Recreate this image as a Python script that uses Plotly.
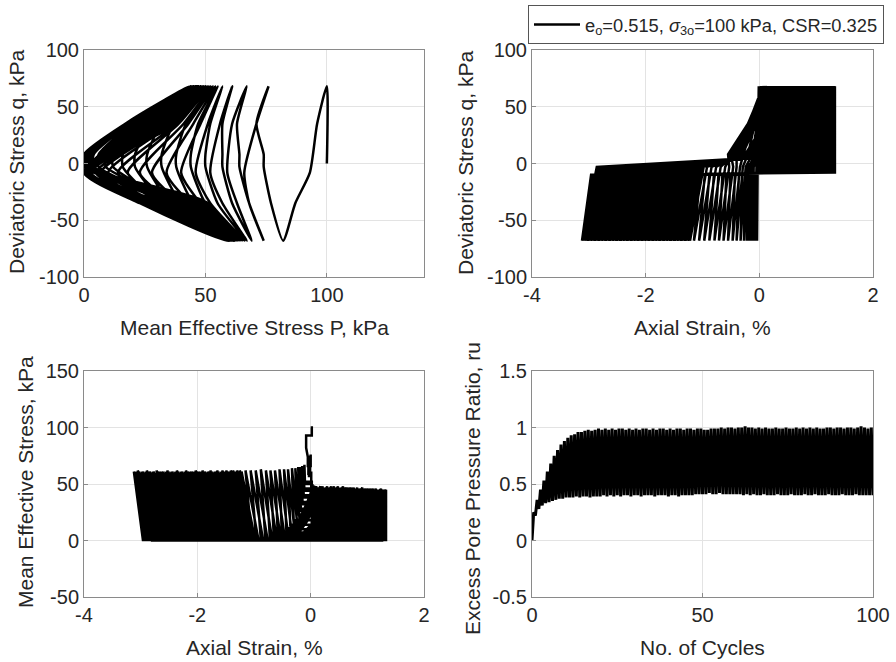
import plotly.graph_objects as go

# ---------------- data (one entry per loading cycle, 1..100) ----------------
p_start = [100]
q_start = [0]
eps_start = [0.0]

# deviatoric stress (kPa) at the turning points of each cycle:
# A peak, B after unloading, C liquefied, D trough, E after reloading, F start of rise
q_turn = [68, -8, -10, -68, -3, 8]
# q level of the mid-branch readings
q_mid = [35, -35]

p_pk = [100, 76, 67, 61, 57, 55, 54, 53, 52, 51,
        50, 50, 49, 49, 48, 48, 48, 47, 47, 48,
        47, 48, 47, 46, 47, 48, 47, 46, 47, 48,
        47, 46, 48, 47, 46, 47, 48, 46, 47, 47,
        46, 47, 48, 46, 47, 46, 47, 47, 46, 47,
        46, 47, 46, 47, 46, 46, 47, 46, 45, 46,
        47, 46, 45, 46, 46, 45, 46, 47, 45, 46,
        45, 46, 45, 46, 45, 46, 45, 45, 46, 45,
        45, 46, 45, 44, 45, 46, 45, 44, 45, 45,
        44, 45, 46, 44, 45, 44, 45, 44, 45, 45]
p_tr = [82, 74, 69, 67, 66, 66, 65, 65, 64, 64,
        63, 63, 63, 62, 62, 62, 63, 62, 62, 62,
        61, 62, 61, 62, 61, 61, 62, 61, 62, 61,
        61, 62, 61, 61, 62, 61, 60, 61, 62, 61,
        61, 60, 61, 62, 61, 61, 60, 61, 61, 62,
        61, 60, 61, 61, 62, 61, 60, 61, 61, 60,
        61, 62, 61, 60, 61, 61, 60, 61, 62, 61,
        60, 61, 61, 60, 61, 62, 61, 60, 61, 61,
        60, 61, 61, 62, 60, 61, 61, 60, 61, 61,
        62, 61, 60, 61, 61, 60, 61, 62, 61, 61]
p_dn = [93, 66, 59, 52, 46, 40, 34, 28, 23, 18,
        14, 10, 7, 5, 3, 2, 1.5, 1, 1, 0.5,
        1, 0.5, 1.5, 0, 1, 0.5, 1, 1.5, 0.5, 0,
        1, 0.5, 1, 0, 1.5, 0.5, 1, 0.5, 0, 1,
        0.5, 1, 1.5, 0.5, 0, 1, 0.5, 1, 0.5, 1.5,
        0, 1, 0.5, 1, 0.5, 0, 1, 1.5, 0.5, 1,
        0.5, 0, 1, 0.5, 1.5, 1, 0.5, 0, 1, 0.5,
        1, 0.5, 0, 1.5, 0.5, 1, 0.5, 1, 0, 0.5,
        1, 0.5, 1.5, 0, 1, 0.5, 1, 0.5, 0, 1,
        0.5, 1, 0.5, 0, 1.5, 0.5, 1, 0.5, 1, 0.5]
p_up = [74, 64, 57, 50, 44, 38, 32, 26, 21, 16,
        12, 9, 6, 4, 3, 2, 1.5, 1, 1, 0.5,
        0.5, 1, 0, 1, 0.5, 1.5, 0.5, 1, 0, 1,
        0.5, 1, 0.5, 1.5, 0, 1, 0.5, 1, 0.5, 0,
        1, 0.5, 1, 0, 1.5, 0.5, 1, 0.5, 1, 0,
        0.5, 1, 1.5, 0.5, 0, 1, 0.5, 1, 0.5, 1,
        0, 1, 0.5, 1, 0.5, 1.5, 0, 1, 0.5, 1,
        0.5, 0, 1, 0.5, 1, 0.5, 1.5, 0, 1, 0.5,
        1, 0, 0.5, 1, 0.5, 1, 0, 1.5, 0.5, 1,
        0.5, 1, 0, 0.5, 1, 0.5, 1, 0, 0.5, 1]
# p' at q = +35 while unloading from the compression peak
p_um = [96, 71, 61, 56, 51, 48, 45, 43, 41, 39,
        38, 36, 35, 34, 33, 32, 31, 30, 30, 29,
        27, 33, 24, 36, 29, 22, 31, 35, 26, 30,
        23, 34, 28, 37, 25, 32, 21, 29, 36, 27,
        33, 24, 30, 38, 26, 31, 22, 35, 28, 32,
        25, 37, 29, 23, 34, 27, 31, 36, 24, 30,
        28, 33, 22, 35, 26, 32, 29, 37, 25, 31,
        23, 34, 30, 27, 36, 24, 32, 28, 35, 26,
        31, 22, 33, 29, 37, 25, 30, 34, 27, 32,
        24, 36, 28, 31, 23, 35, 29, 26, 33, 30]
# p' at q = -35 while loading towards the extension trough
p_em = [87, 68, 63, 57, 52, 48, 44, 40, 37, 34,
        32, 30, 29, 28, 27, 27, 26, 26, 25, 26,
        25, 29, 24, 31, 26, 28, 23, 30, 25, 27,
        32, 24, 28, 26, 30, 23, 27, 29, 25, 31,
        24, 28, 26, 33, 25, 29, 23, 27, 30, 24,
        28, 25, 31, 26, 24, 29, 27, 23, 30, 26,
        25, 28, 32, 24, 27, 26, 30, 23, 29, 25,
        27, 24, 31, 26, 28, 25, 23, 30, 26, 28,
        24, 29, 25, 27, 32, 23, 28, 26, 30, 25,
        27, 24, 29, 26, 23, 31, 25, 28, 24, 27]
# p' at q = -35 while reloading from the extension trough
p_rm = [77, 68, 61, 55, 50, 45, 40, 36, 33, 31,
        36, 38, 37, 40, 38, 41, 39, 42, 40, 41,
        40, 45, 37, 48, 42, 36, 50, 43, 39, 46,
        38, 44, 49, 41, 37, 47, 42, 35, 45, 40,
        48, 39, 43, 36, 46, 41, 51, 38, 44, 42,
        37, 45, 40, 49, 43, 36, 47, 41, 38, 44,
        42, 50, 37, 45, 39, 43, 48, 36, 41, 46,
        40, 44, 38, 49, 42, 37, 46, 43, 35, 47,
        41, 38, 45, 50, 39, 43, 36, 48, 42, 40,
        44, 37, 47, 41, 39, 45, 38, 43, 49, 40]
# p' at q = +35 while loading towards the next compression peak
p_lm = [71, 63, 57, 52, 47, 42, 37, 32, 28, 25,
        22, 21, 20, 19, 19, 18, 18, 18, 19, 18,
        18, 19, 18, 17, 19, 18, 20, 18, 19, 18,
        19, 18, 17, 19, 18, 20, 18, 19, 18, 17,
        18, 19, 18, 20, 19, 18, 17, 19, 18, 19,
        18, 17, 19, 18, 20, 18, 19, 18, 17, 19,
        18, 19, 18, 17, 19, 18, 20, 19, 18, 18,
        19, 18, 17, 19, 18, 19, 18, 20, 18, 19,
        18, 19, 18, 17, 19, 18, 19, 18, 20, 18,
        19, 18, 17, 19, 18, 19, 18, 18, 19, 18]

# axial strain (%) at compression peak
eps_pk = [0.02, 0.00, -0.01, 0.01, 0.01, 0.01, 0.01, 0.02, 0.02, 0.02,
          0.02, 0.03, 0.04, 0.05, 0.06, 0.08, 0.10, 0.12, 0.14, 0.17,
          0.19, 0.21, 0.23, 0.25, 0.27, 0.29, 0.31, 0.33, 0.34, 0.36,
          0.38, 0.40, 0.41, 0.43, 0.45, 0.46, 0.48, 0.49, 0.51, 0.52,
          0.54, 0.55, 0.57, 0.58, 0.60, 0.61, 0.63, 0.64, 0.65, 0.67,
          0.68, 0.70, 0.71, 0.72, 0.74, 0.75, 0.76, 0.78, 0.79, 0.80,
          0.82, 0.83, 0.84, 0.86, 0.87, 0.88, 0.90, 0.91, 0.92, 0.94,
          0.95, 0.96, 0.98, 0.99, 1.00, 1.02, 1.03, 1.04, 1.06, 1.07,
          1.08, 1.10, 1.11, 1.12, 1.14, 1.15, 1.16, 1.18, 1.19, 1.20,
          1.22, 1.23, 1.24, 1.26, 1.27, 1.28, 1.29, 1.31, 1.32, 1.33]
# axial strain at extension trough
eps_tr = [-0.08, -0.05, -0.04, -0.11, -0.13, -0.15, -0.18, -0.22, -0.27, -0.33,
          -0.40, -0.47, -0.55, -0.63, -0.71, -0.79, -0.88, -0.97, -1.06, -1.15,
          -1.22, -1.25, -1.27, -1.30, -1.32, -1.34, -1.37, -1.39, -1.41, -1.44,
          -1.46, -1.49, -1.51, -1.53, -1.56, -1.58, -1.60, -1.63, -1.65, -1.68,
          -1.70, -1.72, -1.75, -1.77, -1.79, -1.82, -1.84, -1.87, -1.89, -1.91,
          -1.94, -1.96, -1.98, -2.01, -2.03, -2.06, -2.08, -2.10, -2.13, -2.15,
          -2.17, -2.20, -2.22, -2.25, -2.27, -2.29, -2.32, -2.34, -2.36, -2.39,
          -2.41, -2.44, -2.46, -2.48, -2.51, -2.53, -2.55, -2.58, -2.60, -2.63,
          -2.65, -2.67, -2.70, -2.72, -2.74, -2.77, -2.79, -2.82, -2.84, -2.86,
          -2.89, -2.91, -2.93, -2.96, -2.98, -3.01, -3.03, -3.05, -3.08, -3.12]
# axial strain at the end of the liquefied traverse before the trough
eps_lq = [-0.08, -0.05, -0.04, -0.11, -0.12, -0.14, -0.17, -0.20, -0.25, -0.30,
          -0.36, -0.43, -0.51, -0.58, -0.65, -0.72, -0.80, -0.88, -0.96, -1.04,
          -1.06, -1.09, -1.11, -1.14, -1.16, -1.18, -1.21, -1.23, -1.25, -1.28,
          -1.30, -1.33, -1.35, -1.37, -1.40, -1.42, -1.44, -1.47, -1.49, -1.52,
          -1.54, -1.56, -1.59, -1.61, -1.63, -1.66, -1.68, -1.71, -1.73, -1.75,
          -1.78, -1.80, -1.82, -1.85, -1.87, -1.90, -1.92, -1.94, -1.97, -1.99,
          -2.01, -2.04, -2.06, -2.09, -2.11, -2.13, -2.16, -2.18, -2.20, -2.23,
          -2.25, -2.28, -2.30, -2.32, -2.35, -2.37, -2.39, -2.42, -2.44, -2.47,
          -2.49, -2.51, -2.54, -2.56, -2.58, -2.61, -2.63, -2.66, -2.68, -2.70,
          -2.73, -2.75, -2.77, -2.80, -2.82, -2.85, -2.87, -2.89, -2.92, -2.96]
# axial strain after reloading from the trough
eps_rl = [-0.05, -0.03, -0.03, -0.10, -0.11, -0.12, -0.14, -0.17, -0.20, -0.24,
          -0.29, -0.34, -0.40, -0.46, -0.53, -0.60, -0.68, -0.76, -0.84, -0.92,
          -0.98, -1.01, -1.02, -1.06, -1.07, -1.10, -1.12, -1.15, -1.16, -1.20,
          -1.21, -1.25, -1.26, -1.29, -1.31, -1.34, -1.35, -1.39, -1.40, -1.44,
          -1.45, -1.48, -1.50, -1.53, -1.54, -1.58, -1.59, -1.63, -1.64, -1.67,
          -1.69, -1.72, -1.73, -1.77, -1.78, -1.82, -1.83, -1.86, -1.88, -1.91,
          -1.92, -1.96, -1.97, -2.01, -2.02, -2.05, -2.07, -2.10, -2.11, -2.15,
          -2.16, -2.20, -2.21, -2.24, -2.26, -2.29, -2.30, -2.34, -2.35, -2.39,
          -2.40, -2.43, -2.45, -2.48, -2.49, -2.53, -2.54, -2.58, -2.59, -2.62,
          -2.64, -2.67, -2.68, -2.72, -2.73, -2.77, -2.78, -2.80, -2.83, -2.86]
# axial strain where stiffening starts before the next compression peak
eps_rs = [-0.02, -0.02, 0.00, 0.01, 0.01, 0.01, 0.02, 0.02, -0.05, -0.12,
          -0.20, -0.28, -0.40, -0.50, -0.55, -0.50, -0.45, -0.40, -0.35, -0.30,
          -0.25, -0.20, -0.15, -0.11, -0.08, -0.05, -0.02, -0.01, 0.01, 0.03,
          0.05, 0.06, 0.08, 0.10, 0.11, 0.13, 0.14, 0.16, 0.17, 0.19,
          0.20, 0.22, 0.23, 0.25, 0.26, 0.28, 0.29, 0.30, 0.32, 0.33,
          0.35, 0.36, 0.37, 0.39, 0.40, 0.41, 0.43, 0.44, 0.45, 0.47,
          0.48, 0.49, 0.51, 0.52, 0.53, 0.55, 0.56, 0.57, 0.59, 0.60,
          0.61, 0.63, 0.64, 0.65, 0.67, 0.68, 0.69, 0.71, 0.72, 0.73,
          0.75, 0.76, 0.77, 0.79, 0.80, 0.81, 0.83, 0.84, 0.85, 0.87,
          0.88, 0.89, 0.91, 0.92, 0.93, 0.94, 0.96, 0.97, 0.98, 0.98]
# axial strain at q = +35 while loading towards the next compression peak
eps_lm = [-0.01, -0.01, 0.01, 0.01, 0.01, 0.01, 0.02, 0.02, -0.01, -0.04,
          -0.08, -0.12, -0.16, -0.19, -0.20, -0.18, -0.15, -0.12, -0.08, -0.05,
          0.09, 0.11, 0.13, 0.15, 0.17, 0.19, 0.21, 0.22, 0.24, 0.26,
          0.28, 0.29, 0.31, 0.33, 0.34, 0.36, 0.37, 0.39, 0.40, 0.42,
          0.43, 0.45, 0.46, 0.48, 0.49, 0.51, 0.52, 0.53, 0.55, 0.56,
          0.58, 0.59, 0.60, 0.62, 0.63, 0.64, 0.66, 0.67, 0.68, 0.70,
          0.71, 0.72, 0.74, 0.75, 0.76, 0.78, 0.79, 0.80, 0.82, 0.83,
          0.84, 0.86, 0.87, 0.88, 0.90, 0.91, 0.92, 0.94, 0.95, 0.96,
          0.98, 0.99, 1.00, 1.02, 1.03, 1.04, 1.06, 1.07, 1.08, 1.10,
          1.11, 1.12, 1.14, 1.15, 1.16, 1.17, 1.19, 1.20, 1.21, 1.21]

# excess pore pressure ratio: maximum (mid-cycle) and minimum (end of cycle)
ru_start = [0.0]
ru_pk = [0.25, 0.36, 0.45, 0.53, 0.61, 0.68, 0.75, 0.80, 0.85, 0.88,
         0.91, 0.93, 0.94, 0.96, 0.96, 0.97, 0.98, 0.97, 0.98, 0.99,
         0.98, 0.99, 0.98, 0.99, 0.98, 0.99, 0.99, 0.98, 0.99, 0.98,
         0.99, 0.98, 0.99, 0.99, 0.98, 0.99, 0.98, 0.99, 0.99, 0.98,
         0.99, 0.98, 0.99, 0.99, 0.98, 0.99, 0.99, 0.98, 0.99, 0.99,
         0.98, 0.98, 0.99, 0.99, 0.99, 1.00, 0.99, 1.00, 1.00, 0.99,
         1.00, 1.00, 1.01, 1.00, 1.00, 0.99, 1.00, 0.99, 1.00, 0.99,
         0.99, 1.00, 0.99, 0.99, 1.00, 0.99, 0.99, 1.00, 0.99, 1.00,
         0.99, 1.00, 0.99, 1.00, 0.99, 0.99, 1.00, 1.00, 0.99, 1.00,
         1.00, 0.99, 1.00, 1.00, 0.99, 1.00, 1.01, 1.00, 0.99, 1.00]
ru_tr = [0.22, 0.28, 0.31, 0.33, 0.34, 0.35, 0.36, 0.37, 0.37, 0.38,
         0.38, 0.38, 0.39, 0.38, 0.39, 0.39, 0.38, 0.39, 0.39, 0.39,
         0.40, 0.39, 0.40, 0.39, 0.40, 0.39, 0.40, 0.40, 0.39, 0.40,
         0.40, 0.39, 0.40, 0.40, 0.40, 0.39, 0.40, 0.40, 0.40, 0.39,
         0.40, 0.40, 0.39, 0.40, 0.40, 0.40, 0.40, 0.41, 0.41, 0.41,
         0.41, 0.42, 0.41, 0.41, 0.42, 0.41, 0.41, 0.41, 0.41, 0.41,
         0.41, 0.40, 0.41, 0.40, 0.41, 0.40, 0.40, 0.41, 0.40, 0.40,
         0.40, 0.41, 0.40, 0.40, 0.40, 0.41, 0.40, 0.40, 0.40, 0.41,
         0.40, 0.40, 0.41, 0.40, 0.40, 0.40, 0.41, 0.40, 0.40, 0.40,
         0.41, 0.40, 0.40, 0.40, 0.41, 0.40, 0.40, 0.40, 0.40, 0.40]

legend_label = "e<sub>o</sub>=0.515, <i>σ</i><sub>3o</sub>=100 kPa, CSR=0.325"

# ---------------- build paths ----------------
qa, qb, qc, qd, qe, qf = q_turn
qm_pos, qm_neg = q_mid

# stress path (p', q) with mid-branch readings
sp_p, sp_q = list(p_start), list(q_start)
for k in range(len(p_pk)):
    sp_p += [p_pk[k], p_um[k], p_dn[k], p_em[k], p_tr[k], p_rm[k], p_up[k], p_up[k], p_lm[k]]
    sp_q += [qa, qm_pos, qb, qm_neg, qd, qm_neg, qe, qf, qm_pos]

# strain paths
e_path, eq_path, ep_path = list(eps_start), list(q_start), list(p_start)
for k in range(len(p_pk)):
    e_path += [eps_pk[k], eps_pk[k], eps_lq[k], eps_tr[k], eps_rl[k], eps_rs[k], eps_lm[k]]
    eq_path += [qa, qb, qc, qd, qe, qf, qm_pos]
    ep_path += [p_pk[k], p_dn[k], p_dn[k], p_tr[k], p_up[k], p_up[k], p_lm[k]]

n_x, ru_y = [0.0], list(ru_start)
for k in range(len(ru_pk)):
    n_x += [k + 0.5, k + 1.0]
    ru_y += [ru_pk[k], ru_tr[k]]

# ---------------- figure ----------------
W, H = 896, 662
FONT = "Liberation Sans, Arial, sans-serif"
TXT = "#262626"
line = dict(color="black", width=2.5)

fig = go.Figure()
fig.add_trace(go.Scatter(x=sp_p, y=sp_q, mode="lines",
                         line=dict(color="black", width=2.5, shape="spline", smoothing=0.6),
                         xaxis="x", yaxis="y", showlegend=False))
fig.add_trace(go.Scatter(x=e_path, y=eq_path, mode="lines", line=line,
                         xaxis="x2", yaxis="y2", name=legend_label, showlegend=True))
fig.add_trace(go.Scatter(x=e_path, y=ep_path, mode="lines", line=line,
                         xaxis="x3", yaxis="y3", showlegend=False))
fig.add_trace(go.Scatter(x=n_x, y=ru_y, mode="lines", line=dict(color="black", width=3),
                         xaxis="x4", yaxis="y4", showlegend=False))


def px_x(v):
    return v / W


def px_y(v):
    return 1 - v / H


dom_x_left = [px_x(84), px_x(424)]
dom_x_right = [px_x(532), px_x(873)]
dom_y_top = [px_y(277), px_y(50)]
dom_y_bot = [px_y(597), px_y(371)]


def ax(domain, anchor, rng, vals, texts):
    return dict(domain=domain, anchor=anchor, range=rng, tickvals=vals, ticktext=texts,
                automargin=False,
                showgrid=True, gridcolor="#e3e3e3", gridwidth=1, zeroline=False,
                showline=True, linecolor="#8a8a8a", linewidth=1, mirror=True,
                ticks="inside", ticklen=4, tickcolor="#8a8a8a",
                tickfont=dict(family=FONT, size=20, color=TXT), fixedrange=True)


fig.update_layout(
    width=W, height=H, margin=dict(l=0, r=0, t=0, b=0, autoexpand=False),
    paper_bgcolor="white", plot_bgcolor="white",
    font=dict(family=FONT, color=TXT),
    xaxis=ax(dom_x_left, "y", [0, 140], [0, 50, 100], ["0", "50", "100"]),
    yaxis=ax(dom_y_top, "x", [-100, 100], [-100, -50, 0, 50, 100], ["-100", "-50", "0", "50", "100"]),
    xaxis2=ax(dom_x_right, "y2", [-4, 2], [-4, -2, 0, 2], ["-4", "-2", "0", "2"]),
    yaxis2=ax(dom_y_top, "x2", [-100, 100], [-100, -50, 0, 50, 100], ["-100", "-50", "0", "50", "100"]),
    xaxis3=ax(dom_x_left, "y3", [-4, 2], [-4, -2, 0, 2], ["-4", "-2", "0", "2"]),
    yaxis3=ax(dom_y_bot, "x3", [-50, 150], [-50, 0, 50, 100, 150], ["-50", "0", "50", "100", "150"]),
    xaxis4=ax(dom_x_right, "y4", [0, 100], [0, 50, 100], ["0", "50", "100"]),
    yaxis4=ax(dom_y_bot, "x4", [-0.5, 1.5], [-0.5, 0, 0.5, 1, 1.5], ["-0.5", "0", "0.5", "1", "1.5"]),
    legend=dict(x=px_x(884), xanchor="right", y=px_y(5), yanchor="top",
                bgcolor="white", bordercolor="#555555", borderwidth=1, itemwidth=46,
                font=dict(family=FONT, size=18.3, color=TXT)),
)

titles = [
    ("Deviatoric Stress q, kPa", 17, 162, -90),
    ("Mean Effective Stress P, kPa", 254, 327, 0),
    ("Deviatoric Stress q, kPa", 465, 163, -90),
    ("Axial Strain, %", 702, 327, 0),
    ("Mean Effective Stress, kPa", 25, 482, -90),
    ("Axial Strain, %", 254, 647, 0),
    ("Excess Pore Pressure Ratio, ru", 472, 489, -90),
    ("No. of Cycles", 702, 647, 0),
]
for text, x, y, ang in titles:
    fig.add_annotation(text=text, x=px_x(x), y=px_y(y), xref="paper", yref="paper",
                       xanchor="center", yanchor="middle", textangle=ang, showarrow=False,
                       font=dict(family=FONT, size=21, color=TXT))

# the page's default 8px body margin would shift the figure; remove it
fig.write_html("out.html", config={"displayModeBar": False},
               post_script="document.body.style.margin='0px';document.body.style.overflow='hidden';")
